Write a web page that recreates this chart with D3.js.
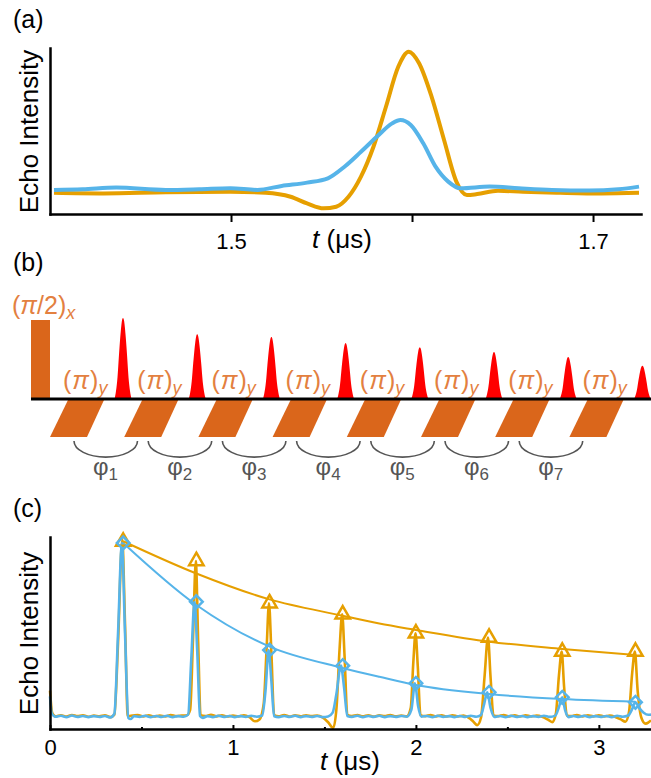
<!DOCTYPE html>
<html>
<head>
<meta charset="utf-8">
<script src="https://cdn.jsdelivr.net/npm/d3@7"></script>
<style>
  body { margin: 0; background: #fff; }
  svg { display: block; font-family: "Liberation Sans", Arial, sans-serif; }
</style>
</head>
<body>
<div class="chart"></div>
<script>
// ---------- panel (a): single echo, t in us ----------
const ticksA = [1.5, 1.6, 1.7];
const tickLabelsA = ["1.5", "", "1.7"];
const echoOrangeA = [[1.4022,0.128],[1.4297,0.124],[1.464,0.131],[1.4996,0.134],[1.5191,0.128],[1.5329,0.104],
  [1.542,0.064],[1.5512,0.034],[1.5581,0.044],[1.5649,0.104],[1.5718,0.225],[1.5787,0.405],[1.5856,0.646],
  [1.5924,0.887],[1.5982,0.978],[1.6039,0.908],[1.6108,0.707],[1.6177,0.446],[1.6245,0.195],[1.6303,0.114],
  [1.636,0.12],[1.6475,0.14],[1.6612,0.134],[1.6819,0.128],[1.7048,0.124],[1.7254,0.128]];
const echoBlueA = [[1.4022,0.145],[1.418,0.149],[1.4366,0.159],[1.464,0.145],[1.4824,0.149],[1.4996,0.155],
  [1.5145,0.145],[1.528,0.169],[1.542,0.189],[1.5535,0.215],[1.5627,0.285],[1.5718,0.375],[1.581,0.47],
  [1.589,0.546],[1.5936,0.566],[1.5993,0.536],[1.6062,0.426],[1.613,0.285],[1.62,0.195],[1.6268,0.155],
  [1.6429,0.165],[1.659,0.155],[1.6773,0.145],[1.6979,0.141],[1.714,0.149],[1.7254,0.165]];

// ---------- panel (b): pulse sequence ----------
const echoAmpB = [1.0, 0.80, 0.765, 0.69, 0.64, 0.58, 0.52, 0.41];
const pulsePhaseB = ["y", "y", "y", "y", "y", "y", "y", "y"];
const phaseNumB = ["1", "2", "3", "4", "5", "6", "7"];

// ---------- panel (c): echo train ----------
const ticksC = [0, 1, 2, 3];
const minorTicksC = [0.5, 1.5, 2.5];
const echoTimesC = [0.4, 0.8, 1.2, 1.6, 2.0, 2.4, 2.8, 3.2];
const peakOrangeC = [0.976, 0.875, 0.655, 0.597, 0.498, 0.476, 0.403, 0.403];
const peakBlueC = [0.969, 0.663, 0.411, 0.33, 0.238, 0.191, 0.165, 0.139];
const fitOrangeC = [[0.4,0.978],[0.8,0.81],[1.2,0.675],[1.6,0.59],[1.8,0.549],[2.0,0.516],[2.4,0.455],[2.8,0.417],[3.2,0.385]];
const fitBlueC = [[0.4,0.969],[0.8,0.646],[1.2,0.429],[1.6,0.318],[1.8,0.272],[2.0,0.229],[2.4,0.182],[2.8,0.156],[3.2,0.142]];
const traceOrangeC = [[0,0.2],[0.012,0.085],[0.03,0.066],[0.06,0.072],[0.09,0.065],[0.12,0.073],[0.15,0.067],[0.18,0.071],
  [0.21,0.064],[0.24,0.07],[0.27,0.066],[0.30,0.071],[0.33,0.062],[0.352,0.075],[0.372,0.45],[0.395,0.985],[0.41,0.55],
  [0.425,0.068],[0.45,0.07],[0.48,0.073],[0.51,0.066],[0.54,0.072],[0.57,0.065],[0.60,0.07],[0.63,0.066],[0.66,0.073],
  [0.69,0.067],[0.72,0.07],[0.748,0.072],[0.766,0.1],[0.782,0.48],[0.797,0.875],[0.81,0.45],[0.823,0.072],[0.85,0.068],
  [0.88,0.074],[0.91,0.066],[0.94,0.071],[0.97,0.065],[1.00,0.07],[1.03,0.066],[1.06,0.072],[1.09,0.062],[1.12,0.04],
  [1.145,0.05],[1.168,0.13],[1.184,0.42],[1.197,0.655],[1.21,0.40],[1.225,0.072],[1.25,0.066],[1.28,0.073],[1.31,0.065],
  [1.34,0.071],[1.37,0.066],[1.40,0.072],[1.43,0.067],[1.46,0.07],[1.49,0.06],[1.52,0.035],[1.548,0.006],[1.566,0.11],
  [1.583,0.42],[1.597,0.597],[1.61,0.38],[1.625,0.074],[1.65,0.068],[1.68,0.073],[1.71,0.066],[1.74,0.072],[1.77,0.065],
  [1.80,0.071],[1.83,0.067],[1.86,0.073],[1.89,0.066],[1.92,0.07],[1.95,0.066],[1.972,0.11],[1.986,0.35],[1.998,0.498],
  [2.01,0.33],[2.025,0.072],[2.05,0.067],[2.08,0.073],[2.11,0.066],[2.14,0.071],[2.17,0.065],[2.20,0.072],[2.23,0.066],
  [2.26,0.07],[2.29,0.058],[2.312,0.04],[2.335,0.02],[2.356,0.06],[2.375,0.27],[2.394,0.476],[2.408,0.27],[2.424,0.07],
  [2.45,0.067],[2.48,0.073],[2.51,0.066],[2.54,0.071],[2.57,0.065],[2.60,0.072],[2.63,0.066],[2.66,0.07],[2.69,0.064],
  [2.72,0.05],[2.745,0.036],[2.765,0.08],[2.782,0.28],[2.797,0.403],[2.81,0.22],[2.825,0.07],[2.85,0.067],[2.88,0.073],
  [2.91,0.066],[2.94,0.071],[2.97,0.066],[3.00,0.072],[3.03,0.066],[3.06,0.07],[3.09,0.063],[3.12,0.05],[3.145,0.038],
  [3.165,0.09],[3.182,0.29],[3.197,0.403],[3.212,0.2],[3.232,0.06],[3.255,0.028],[3.272,0.035],[3.285,0.045]];
const traceBlueC = [[0,0.17],[0.01,0.08],[0.03,0.064],[0.06,0.069],[0.09,0.062],[0.12,0.07],[0.15,0.063],[0.18,0.068],
  [0.21,0.062],[0.24,0.067],[0.27,0.063],[0.30,0.068],[0.33,0.06],[0.352,0.08],[0.372,0.5],[0.393,0.97],[0.41,0.5],
  [0.428,0.058],[0.44,0.052],[0.46,0.067],[0.49,0.063],[0.52,0.069],[0.55,0.062],[0.58,0.068],[0.61,0.063],[0.64,0.069],
  [0.67,0.062],[0.70,0.067],[0.73,0.064],[0.755,0.075],[0.772,0.36],[0.79,0.663],[0.805,0.4],[0.82,0.068],[0.835,0.058],
  [0.86,0.067],[0.89,0.062],[0.92,0.069],[0.95,0.063],[0.98,0.068],[1.01,0.062],[1.04,0.067],[1.07,0.063],[1.10,0.069],
  [1.13,0.064],[1.16,0.07],[1.178,0.2],[1.195,0.411],[1.21,0.25],[1.225,0.066],[1.25,0.062],[1.28,0.068],[1.31,0.063],
  [1.34,0.069],[1.37,0.062],[1.40,0.067],[1.43,0.063],[1.46,0.068],[1.49,0.062],[1.52,0.065],[1.545,0.085],[1.565,0.18],
  [1.59,0.33],[1.607,0.22],[1.625,0.068],[1.65,0.063],[1.68,0.069],[1.71,0.062],[1.74,0.068],[1.77,0.063],[1.80,0.069],
  [1.83,0.062],[1.86,0.067],[1.89,0.063],[1.92,0.068],[1.95,0.064],[1.975,0.1],[1.995,0.238],[2.012,0.12],[2.03,0.064],
  [2.06,0.068],[2.09,0.062],[2.12,0.069],[2.15,0.063],[2.18,0.067],[2.21,0.062],[2.24,0.068],[2.27,0.063],[2.30,0.069],
  [2.33,0.064],[2.355,0.072],[2.373,0.13],[2.39,0.191],[2.408,0.11],[2.428,0.063],[2.46,0.068],[2.49,0.062],[2.52,0.069],
  [2.55,0.063],[2.58,0.068],[2.61,0.062],[2.64,0.067],[2.67,0.063],[2.70,0.069],[2.73,0.063],[2.762,0.07],[2.782,0.115],
  [2.8,0.165],[2.815,0.1],[2.835,0.062],[2.86,0.068],[2.89,0.063],[2.92,0.069],[2.95,0.062],[2.98,0.067],[3.01,0.063],
  [3.04,0.068],[3.07,0.062],[3.10,0.069],[3.13,0.064],[3.16,0.07],[3.18,0.1],[3.2,0.139],[3.22,0.11],[3.245,0.085],
  [3.27,0.074],[3.285,0.075]];

// shape of one red echo in panel (b): [px offset, relative height]
const echoShapeB = [[-8.5,0],[-7,0.1],[-5.5,0.27],[-4,0.55],[-2.5,0.8],[-1,0.97],[0,1],[1,0.97],[2.5,0.8],[4,0.55],[5.5,0.27],[7,0.1],[8.5,0]];

const orange = "#E69F00", blue = "#56B4E9";
const pulseFill = "#DA661B", pulseText = "#E3803F", grey = "#555";

const svg = d3.select(".chart").append("svg")
    .attr("width", 651)
    .attr("height", 778);

function panelLabel(txt, y) {
    svg.append("text").attr("x", 13).attr("y", y)
        .attr("font-size", 25).text(txt);
}

function xLabel(cx, y) {
    const t = svg.append("text").attr("x", cx).attr("y", y)
        .attr("text-anchor", "middle").attr("font-size", 26);
    t.append("tspan").attr("font-style", "italic").text("t");
    t.append("tspan").text(" (μs)");
}

function yLabel(cy) {
    svg.append("text")
        .attr("transform", "translate(38," + cy + ") rotate(-90)")
        .attr("text-anchor", "middle").attr("font-size", 26)
        .text("Echo Intensity");
}

function styleAxis(g) {
    g.select(".domain").attr("stroke", "#000").attr("stroke-width", 2.5).attr("stroke-linecap", "square");
    g.selectAll(".tick line").attr("stroke", "#000").attr("stroke-width", 2);
    g.selectAll(".tick text").attr("font-size", 22).attr("font-family", "Liberation Sans, Arial, sans-serif").attr("fill", "#000");
}

// ================= (a) =================
panelLabel("(a)", 28);
const xA = d3.scaleLinear().domain([1.4, 1.7265]).range([50, 641]);
const yA = d3.scaleLinear().domain([0, 1]).range([214, 48]);

const lineA = d3.line().x(d => xA(d[0])).y(d => yA(d[1])).curve(d3.curveMonotoneX);
svg.append("path").datum(echoOrangeA).attr("d", lineA)
    .attr("fill", "none").attr("stroke", orange).attr("stroke-width", 4);
svg.append("path").datum(echoBlueA).attr("d", lineA)
    .attr("fill", "none").attr("stroke", blue).attr("stroke-width", 4);

const axA = svg.append("g").attr("transform", "translate(0,214)")
    .call(d3.axisBottom(xA).tickValues(ticksA).tickFormat((d, i) => tickLabelsA[i])
        .tickSizeInner(8).tickSizeOuter(0).tickPadding(11));
styleAxis(axA);
const ayA = svg.append("g").attr("transform", "translate(50,0)")
    .call(d3.axisLeft(yA).tickValues([]).tickSizeOuter(0));
styleAxis(ayA);
yLabel(131.5);
xLabel(342, 248);

// ================= (b) =================
panelLabel("(b)", 271);
const xB = d3.scaleLinear().domain([0, 7]).range([50, 569.4]);
const yB = d3.scaleLinear().domain([0, 1]).range([399, 318]);
const baseB = yB(0);

// (pi/2)_x pulse
svg.append("rect").attr("x", 31).attr("y", 320).attr("width", 19).attr("height", baseB - 320)
    .attr("fill", pulseFill);
const lab0 = svg.append("text").attr("x", 12).attr("y", 314).attr("fill", pulseText).attr("font-size", 25);
lab0.append("tspan").text("(");
lab0.append("tspan").attr("font-style", "italic").text("π");
lab0.append("tspan").text("/2)");
lab0.append("tspan").attr("font-size", 18).attr("font-style", "italic").attr("dy", 5).text("x");

// (pi)_y pulses below the line
svg.selectAll("path.pipulse").data(pulsePhaseB).join("path").attr("class", "pipulse")
    .attr("d", (d, i) => {
        const x = xB(i);
        return "M" + (x + 18) + "," + (baseB + 1) + "L" + (x + 54) + "," + (baseB + 1)
            + "L" + (x + 37) + ",437L" + x + ",437Z";
    })
    .attr("fill", pulseFill);

// pulse labels
svg.selectAll("text.pilab").data(pulsePhaseB).join("text").attr("class", "pilab")
    .attr("x", (d, i) => xB(i) + 13).attr("y", 389)
    .attr("fill", pulseText).attr("font-size", 25)
    .each(function (d) {
        const t = d3.select(this);
        t.append("tspan").text("(");
        t.append("tspan").attr("font-style", "italic").attr("dx", 1).text("π");
        t.append("tspan").attr("dx", 1).text(")");
        t.append("tspan").attr("font-size", 18).attr("font-style", "italic").attr("dy", 5).text(d);
    });

// red echoes
const areaB = (cx, amp) => d3.area()
    .x(p => cx + p[0]).y0(baseB).y1(p => yB(amp * p[1])).curve(d3.curveMonotoneX)(echoShapeB);
svg.selectAll("path.echoB").data(echoAmpB).join("path").attr("class", "echoB")
    .attr("d", (d, i) => areaB(xB(i) + 73, d))
    .attr("fill", "#FF0000");

// time axis line
svg.append("line").attr("x1", 31).attr("x2", 651).attr("y1", baseB).attr("y2", baseB)
    .attr("stroke", "#000").attr("stroke-width", 3);

// phase arcs
svg.selectAll("path.arc").data(phaseNumB).join("path").attr("class", "arc")
    .attr("d", (d, i) => {
        const x = xB(i);
        return "M" + (x + 24) + ",441A31.5,16 0 0 0 " + (x + 87.5) + ",441";
    })
    .attr("fill", "none").attr("stroke", grey).attr("stroke-width", 1.6);

svg.selectAll("text.phi").data(phaseNumB).join("text").attr("class", "phi")
    .attr("x", (d, i) => xB(i) + 55.5).attr("y", 475)
    .attr("text-anchor", "middle").attr("fill", grey).attr("font-size", 24)
    .each(function (d) {
        const t = d3.select(this);
        t.append("tspan").text("φ");
        t.append("tspan").attr("font-size", 17).attr("dy", 5).text(d);
    });

// ================= (c) =================
panelLabel("(c)", 517);
const xC = d3.scaleLinear().domain([0, 3.285]).range([50, 651]);
const yC = d3.scaleLinear().domain([0, 1]).range([729, 537]);

const lineC = d3.line().x(d => xC(d[0])).y(d => yC(d[1])).curve(d3.curveMonotoneX);
svg.append("path").datum(traceOrangeC).attr("d", lineC)
    .attr("fill", "none").attr("stroke", orange).attr("stroke-width", 2.6).attr("stroke-linejoin", "round");
svg.append("path").datum(traceBlueC).attr("d", lineC)
    .attr("fill", "none").attr("stroke", blue).attr("stroke-width", 2.6).attr("stroke-linejoin", "round");
svg.append("path").datum(fitOrangeC).attr("d", lineC)
    .attr("fill", "none").attr("stroke", orange).attr("stroke-width", 2);
svg.append("path").datum(fitBlueC).attr("d", lineC)
    .attr("fill", "none").attr("stroke", blue).attr("stroke-width", 2);

svg.selectAll("path.tri").data(echoTimesC).join("path").attr("class", "tri")
    .attr("d", d3.symbol(d3.symbolTriangle, 90))
    .attr("transform", (d, i) => "translate(" + xC(d) + "," + yC(peakOrangeC[i]) + ")")
    .attr("fill", "none").attr("stroke", orange).attr("stroke-width", 2.5);
svg.selectAll("path.dia").data(echoTimesC).join("path").attr("class", "dia")
    .attr("d", d3.symbol(d3.symbolSquare, 80))
    .attr("transform", (d, i) => "translate(" + xC(d) + "," + yC(peakBlueC[i]) + ") rotate(45)")
    .attr("fill", "none").attr("stroke", blue).attr("stroke-width", 2.5);

const axC = svg.append("g").attr("transform", "translate(0,729)")
    .call(d3.axisBottom(xC).tickValues(ticksC).tickFormat(d3.format("d"))
        .tickSizeInner(-4).tickSizeOuter(0).tickPadding(10));
styleAxis(axC);
const axCm = svg.append("g").attr("transform", "translate(0,729)")
    .call(d3.axisBottom(xC).tickValues(minorTicksC).tickFormat("").tickSizeInner(-2).tickSizeOuter(0));
axCm.select(".domain").remove();
axCm.selectAll(".tick line").attr("stroke", "#000").attr("stroke-width", 2);
const ayC = svg.append("g").attr("transform", "translate(50,0)")
    .call(d3.axisLeft(yC).tickValues([]).tickSizeOuter(0));
styleAxis(ayC);
yLabel(633.5);
xLabel(350, 770);
</script>
</body>
</html>
